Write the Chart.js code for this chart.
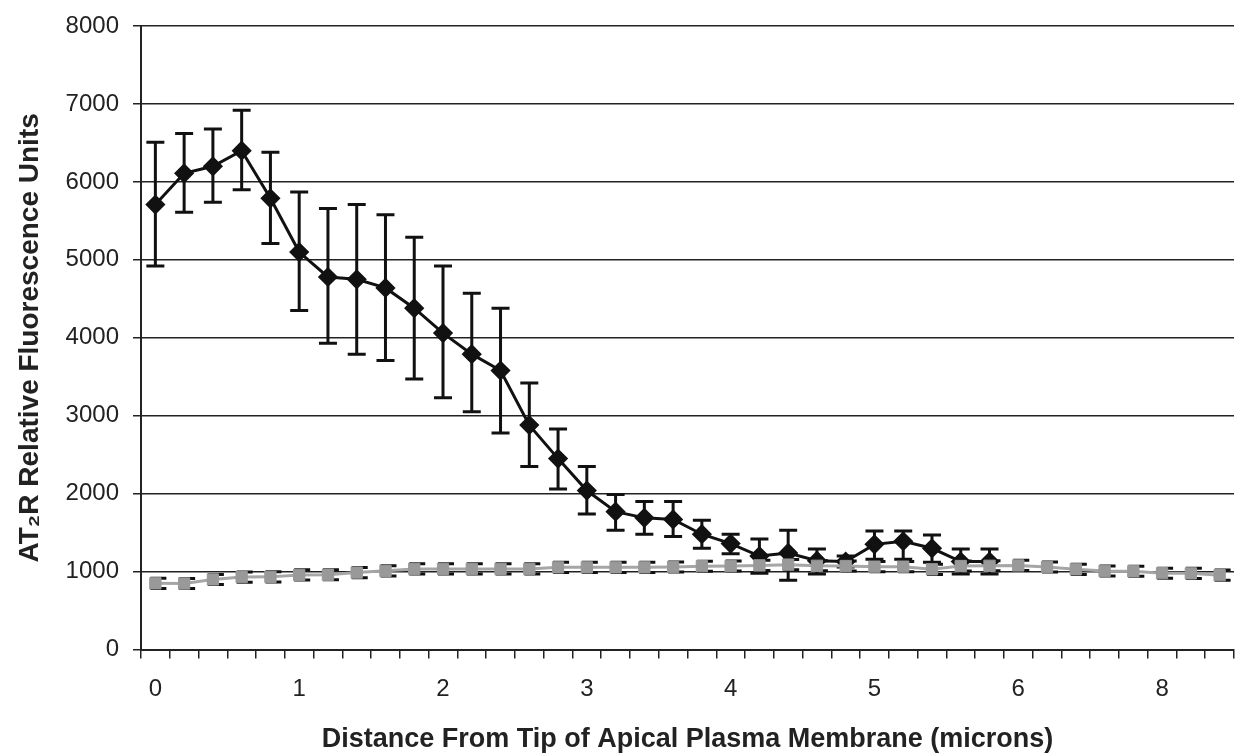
<!DOCTYPE html>
<html>
<head>
<meta charset="utf-8">
<script src="https://cdn.jsdelivr.net/npm/chart.js@4"></script>
<style>
  html, body { margin: 0; padding: 0; background: #fff; }
  #wrap { width: 1245px; height: 756px; }
</style>
</head>
<body>
<div id="wrap"><canvas id="myChart"></canvas></div>
<script>
"use strict";

// 38 samples, 0.2 micron apart; only every 5th one gets a label
const tickLabels = ["0", "1", "2", "3", "4", "5", "6", "8"];
const categories = ["0", "0.2", "0.4", "0.6", "0.8", "1", "1.2", "1.4", "1.6", "1.8",
  "2", "2.2", "2.4", "2.6", "2.8", "3", "3.2", "3.4", "3.6", "3.8",
  "4", "4.2", "4.4", "4.6", "4.8", "5", "5.2", "5.4", "5.6", "5.8",
  "6", "6.2", "6.4", "6.6", "6.8", "7", "7.2", "7.4"];

const at2rMean = [5710, 6110, 6200, 6400, 5790, 5100, 4780, 4750, 4640, 4380,
  4060, 3790, 3580, 2880, 2450, 2040, 1770, 1690, 1670, 1480,
  1360, 1200, 1240, 1140, 1130, 1350, 1390, 1300, 1130, 1130];
const at2rUpper = [6510, 6620, 6680, 6920, 6380, 5870, 5660, 5710, 5580, 5290,
  4920, 4570, 4380, 3420, 2830, 2350, 1990, 1900, 1900, 1660,
  1480, 1420, 1530, 1290, 1200, 1520, 1520, 1470, 1290, 1290];
const at2rLower = [4920, 5610, 5740, 5900, 5210, 4350, 3930, 3790, 3710, 3470,
  3230, 3050, 2780, 2350, 2060, 1740, 1530, 1480, 1450, 1300,
  1230, 980, 890, 970, 1060, 1160, 1160, 1120, 970, 970];

const controlMean = [850, 848, 900, 930, 933, 958, 960, 988, 1010, 1035,
  1035, 1035, 1035, 1035, 1055, 1055, 1055, 1055, 1060, 1070,
  1072, 1080, 1090, 1075, 1072, 1064, 1064, 1030, 1072, 1075,
  1080, 1060, 1030, 1009, 1005, 980, 978, 955];
const controlErr = 65;

const ctx = document.getElementById("myChart");

const errorBars = {
  id: "errorBars",
  beforeDatasetsDraw(chart) {
    const c = chart.ctx;
    const x = chart.scales.x;
    const y = chart.scales.y;
    c.save();
    c.strokeStyle = "#111";
    c.lineWidth = 3;
    // control series: tiny bars mostly hidden behind the squares
    controlMean.forEach((v, i) => {
      const px = x.getPixelForValue(i) + 3;
      const t = y.getPixelForValue(v + controlErr);
      const b = y.getPixelForValue(v - controlErr);
      c.beginPath();
      c.moveTo(px, t); c.lineTo(px, b);
      c.moveTo(px - 8, t); c.lineTo(px + 8, t);
      c.moveTo(px - 8, b); c.lineTo(px + 8, b);
      c.stroke();
    });
    at2rMean.forEach((v, i) => {
      const px = x.getPixelForValue(i);
      const t = y.getPixelForValue(at2rUpper[i]);
      const b = y.getPixelForValue(at2rLower[i]);
      c.beginPath();
      c.moveTo(px, t); c.lineTo(px, b);
      c.moveTo(px - 9, t); c.lineTo(px + 9, t);
      c.moveTo(px - 9, b); c.lineTo(px + 9, b);
      c.stroke();
    });
    c.restore();
  }
};

const titleFont = { family: "'Liberation Sans', Arial, sans-serif", size: 28, weight: "bold" };
const tickFont = { family: "'Liberation Sans', Arial, sans-serif", size: 24, lineHeight: 1 };

new Chart(ctx, {
  type: "line",
  data: {
    labels: categories,
    datasets: [
      {
        label: "Control",
        data: controlMean,
        order: 0,
        borderColor: "#a6a6a6",
        borderWidth: 3,
        pointStyle: "rect",
        pointRadius: 8,
        pointBackgroundColor: "#999",
        pointBorderColor: "#999",
        pointBorderWidth: 1,
      },
      {
        label: "AT2R",
        data: at2rMean,
        order: 1,
        borderColor: "#111",
        borderWidth: 3,
        pointStyle: "rectRot",
        pointRadius: 8,
        pointBackgroundColor: "#111",
        pointBorderColor: "#111",
      },
    ],
  },
  options: {
    responsive: true,
    maintainAspectRatio: false,
    animation: false,
    layout: { padding: { top: -7, right: 7, left: 13, bottom: 0 } },
    plugins: {
      legend: { display: false },
      tooltip: { enabled: false },
    },
    scales: {
      x: {
        offset: true,
        grid: { drawOnChartArea: false, offset: true, tickLength: 9, color: "#222", lineWidth: 1.5 },
        border: { color: "#222", width: 2 },
        ticks: {
          autoSkip: false,
          maxRotation: 0,
          padding: 19,
          color: "#222",
          font: tickFont,
          callback: (val, i) => (i % 5 === 0 ? tickLabels[i / 5] : ""),
        },
        title: {
          display: true,
          text: "Distance From Tip of Apical Plasma Membrane (microns)",
          color: "#222",
          font: { family: "'Liberation Sans', Arial, sans-serif", size: 27, weight: "bold" },
          padding: { top: 3, bottom: 0 },
        },
      },
      y: {
        min: 0,
        max: 8000,
        grid: { color: "#222", lineWidth: 1.5, tickLength: 8 },
        border: { color: "#222", width: 2 },
        ticks: {
          stepSize: 1000,
          padding: 14,
          color: "#222",
          font: tickFont,
          callback: (val) => String(val),
        },
        title: {
          display: true,
          text: "AT₂R Relative Fluorescence Units",
          color: "#222",
          font: titleFont,
          padding: { top: 0, bottom: 5 },
        },
      },
    },
  },
  plugins: [errorBars],
});
</script>
</body>
</html>
